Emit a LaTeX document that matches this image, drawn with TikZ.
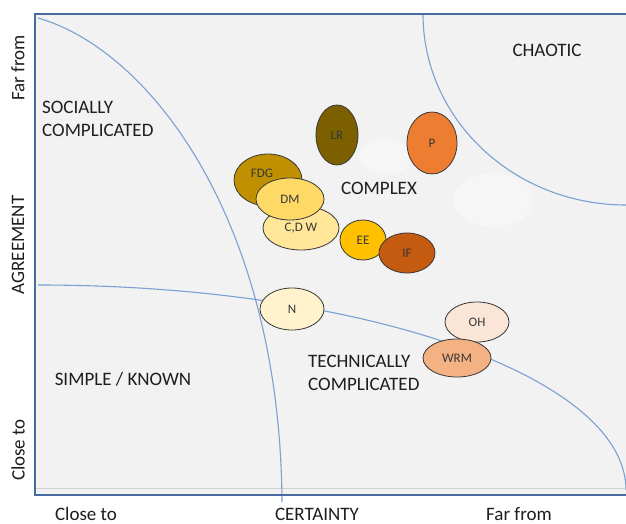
\documentclass[tikz,border=0pt]{standalone}
\usepackage{fontspec}
\setmainfont{Carlito}
\usetikzlibrary{shapes.geometric}
\definecolor{framec}{RGB}{72,106,160}
\definecolor{curvec}{RGB}{122,160,212}
\definecolor{bgc}{RGB}{242,242,242}
\definecolor{txtc}{RGB}{30,30,30}
\definecolor{lblc}{RGB}{55,55,55}
\definecolor{cLR}{RGB}{124,96,0}
\definecolor{cP}{RGB}{237,125,49}
\definecolor{cFDG}{RGB}{191,144,0}
\definecolor{cCDW}{RGB}{255,230,153}
\definecolor{cDM}{RGB}{255,217,102}
\definecolor{cEE}{RGB}{255,192,0}
\definecolor{cIF}{RGB}{197,90,17}
\definecolor{cN}{RGB}{255,242,204}
\definecolor{cOH}{RGB}{251,229,214}
\definecolor{cWRM}{RGB}{244,177,131}
\tikzset{
  blob/.style={ellipse, draw=lblc, line width=0.8pt, inner sep=0pt, text=lblc,
    font=\fontsize{13}{15}\selectfont},
  region/.style={text=txtc, font=\fontsize{19}{23}\selectfont, inner sep=0pt},
  axislbl/.style={text=txtc, font=\fontsize{19}{23}\selectfont, inner sep=0pt},
  zone/.style={draw=curvec, line width=1.1pt},
}
\begin{document}
\begin{tikzpicture}[x=1pt,y=-1pt]
\useasboundingbox (0,0) rectangle (626,524);
\fill[white] (0,0) rectangle (626,524);
% plot area
\fill[bgc] (35,14) rectangle (626,495);
\fill[white!30!bgc] (385,157) ellipse (26 and 18);
\fill[white!30!bgc] (493,200) ellipse (40 and 27);
\draw[black!18, line width=0.8pt] (36,488) -- (626,488);
% zone boundaries
\draw[zone] (38,18) .. controls (150,50) and (280,220) .. (282,502);
\draw[zone] (38,285) .. controls (362.8,285) and (626,376.8) .. (626,490);
\draw[zone] (423,14) .. controls (423,119.5) and (513.9,205) .. (626,205);
% frame
\draw[framec, line width=1.8pt] (626,14) -- (35,14) -- (35,495) -- (626,495);
% region labels
\node[region] (chaotic) at (547,50) {CHAOTIC};
\node[region, align=left, anchor=west] (social) at (42,118.5) {SOCIALLY\\COMPLICATED};
\node[region] (complex) at (379,188) {COMPLEX};
\node[region, align=left, anchor=west] (tech) at (308,373) {TECHNICALLY\\COMPLICATED};
\node[region] (simple) at (123,379) {SIMPLE / KNOWN};
% axis labels
\node[axislbl] (xclose) at (86,514) {Close to};
\node[axislbl] (xcert) at (317,514) {CERTAINTY};
\node[axislbl] (xfar) at (519,514) {Far from};
\node[axislbl, rotate=90] (yfar) at (18,68) {Far from};
\node[axislbl, rotate=90] (yagree) at (18,245) {AGREEMENT};
\node[axislbl, rotate=90] (yclose) at (18,450) {Close to};
% items
\node[blob, fill=cLR, minimum width=42pt, minimum height=60pt] (LR) at (337,135) {LR};
\node[blob, fill=cP, minimum width=50pt, minimum height=62pt] (P) at (432,143) {P};
\node[blob, fill=cFDG, minimum width=68pt, minimum height=52pt] (FDG) at (268,180) {\raisebox{13pt}{\hspace{-12pt}FDG}};
\node[blob, fill=cCDW, minimum width=76pt, minimum height=44pt] (CDW) at (301,228) {C,D W};
\node[blob, fill=cDM, minimum width=68pt, minimum height=42pt] (DM) at (290,199) {DM};
\node[blob, fill=cEE, minimum width=46pt, minimum height=40pt] (EE) at (363,240) {EE};
\node[blob, fill=cIF, minimum width=56pt, minimum height=40pt] (IF) at (407,253) {IF};
\node[blob, fill=cN, minimum width=64pt, minimum height=42pt] (N) at (292,309) {N};
\node[blob, fill=cOH, minimum width=64pt, minimum height=40pt] (OH) at (477,322) {OH};
\node[blob, fill=cWRM, minimum width=68pt, minimum height=38pt] (WRM) at (457,358) {WRM};
\end{tikzpicture}
\end{document}
